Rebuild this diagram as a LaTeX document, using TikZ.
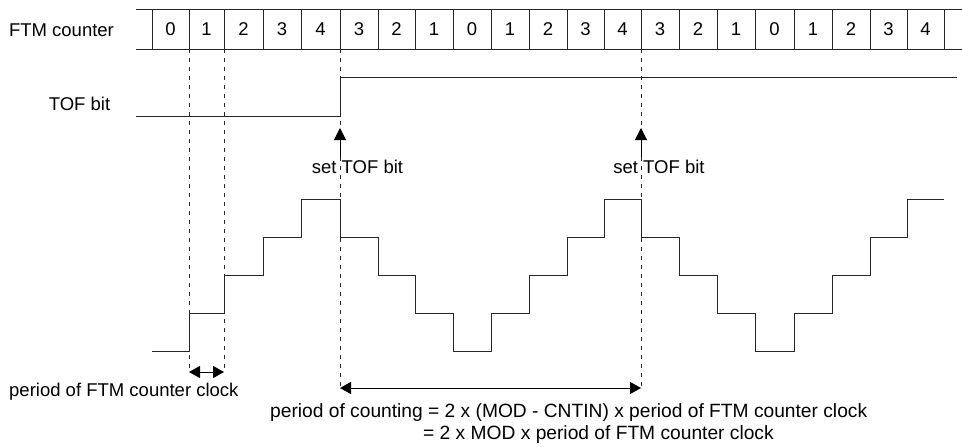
\documentclass[tikz,border=0pt]{standalone}
\usepackage{fontspec}
\setmainfont{Liberation Sans}
\usetikzlibrary{arrows.meta}
\begin{document}
\begin{tikzpicture}[x=1pt,y=-1pt,
  wave/.style={line width=1pt, draw=black!85},
  guide/.style={line width=0.8pt, draw=black!85, dash pattern=on 4pt off 5pt},
  lbl/.style={inner sep=0pt, font=\fontsize{18.5}{22}\selectfont},
  biglbl/.style={inner sep=0pt, font=\fontsize{19.2}{23}\selectfont},
  tip/.style={line width=1pt, draw=black, -{Triangle[length=12pt,width=12pt]}},
  dtip/.style={line width=1pt, draw=black, {Triangle[length=11pt,width=12pt]}-{Triangle[length=11pt,width=12pt]}}
]
\useasboundingbox (0,0) rectangle (962,447);

% FTM counter row
\node[lbl] (ftm) at (61.5,30) {FTM counter};
\draw[wave] (136,9) -- (962,9);
\draw[wave] (136,49) -- (962,49);
\foreach \x in {152,189,224,263,301,340,378,415,453,491,529,567,604,641,679,717,755,794,832,870,907,944}
  \draw[wave] (\x,9) -- (\x,49);
\foreach \a/\b/\v [count=\k] in {152/189/0,189/224/1,224/263/2,263/301/3,301/340/4,340/378/3,378/415/2,415/453/1,453/491/0,491/529/1,529/567/2,567/604/3,604/641/4,641/679/3,679/717/2,717/755/1,755/794/0,794/832/1,832/870/2,870/907/3,907/944/4}
  \node[lbl] (c\k) at ({(\a+\b)/2},29) {\v};

% TOF bit
\node[lbl] (tof) at (79.5,103.5) {TOF bit};
\draw[wave] (136,116) -- (340,116) -- (340,77) -- (957,77);

% dashed guides
\coordinate (g1t) at (189,49); \coordinate (g1b) at (189,372);
\coordinate (g2t) at (224,49); \coordinate (g2b) at (224,372);
\coordinate (g3t) at (340,49); \coordinate (g3b) at (340,388);
\coordinate (g4t) at (641,49); \coordinate (g4b) at (641,388);
\draw[guide] (g1t) -- (g1b);
\draw[guide] (g2t) -- (g2b);
\draw[guide] (g3t) -- (g3b);
\draw[guide] (g4t) -- (g4b);

% set TOF bit arrows
\coordinate (a1s) at (340,157); \coordinate (a1e) at (340,128);
\coordinate (a2s) at (641,157); \coordinate (a2e) at (641,128);
\draw[tip] (a1s) -- (a1e);
\draw[tip] (a2s) -- (a2e);
\node[lbl] (set1) at (357.5,167) {set TOF bit};
\node[lbl] (set2) at (659,167) {set TOF bit};

% staircase
\draw[wave] (152,351) -- (189,351) -- (189,313) -- (224,313) -- (224,275) -- (263,275) -- (263,237)
  -- (301,237) -- (301,199) -- (340,199) -- (340,237) -- (378,237) -- (378,275) -- (415,275)
  -- (415,313) -- (453,313) -- (453,351) -- (491,351) -- (491,313) -- (529,313) -- (529,275)
  -- (567,275) -- (567,237) -- (604,237) -- (604,199) -- (641,199) -- (641,237) -- (679,237)
  -- (679,275) -- (717,275) -- (717,313) -- (755,313) -- (755,351) -- (794,351) -- (794,313)
  -- (832,313) -- (832,275) -- (870,275) -- (870,237) -- (907,237) -- (907,199) -- (944,199);

% period arrows
\draw[dtip] (g1b) -- (g2b);
\draw[dtip] (g3b) -- (g4b);
\node[lbl, anchor=west] (pclk) at (9,392) {period of FTM counter clock};
\node[biglbl, anchor=west] (pcnt1) at (270,413) {period of counting = 2 x (MOD - CNTIN) x period of FTM counter clock};
\node[biglbl, anchor=west] (pcnt2) at (423,435) {= 2 x MOD x period of FTM counter clock};
\end{tikzpicture}
\end{document}
